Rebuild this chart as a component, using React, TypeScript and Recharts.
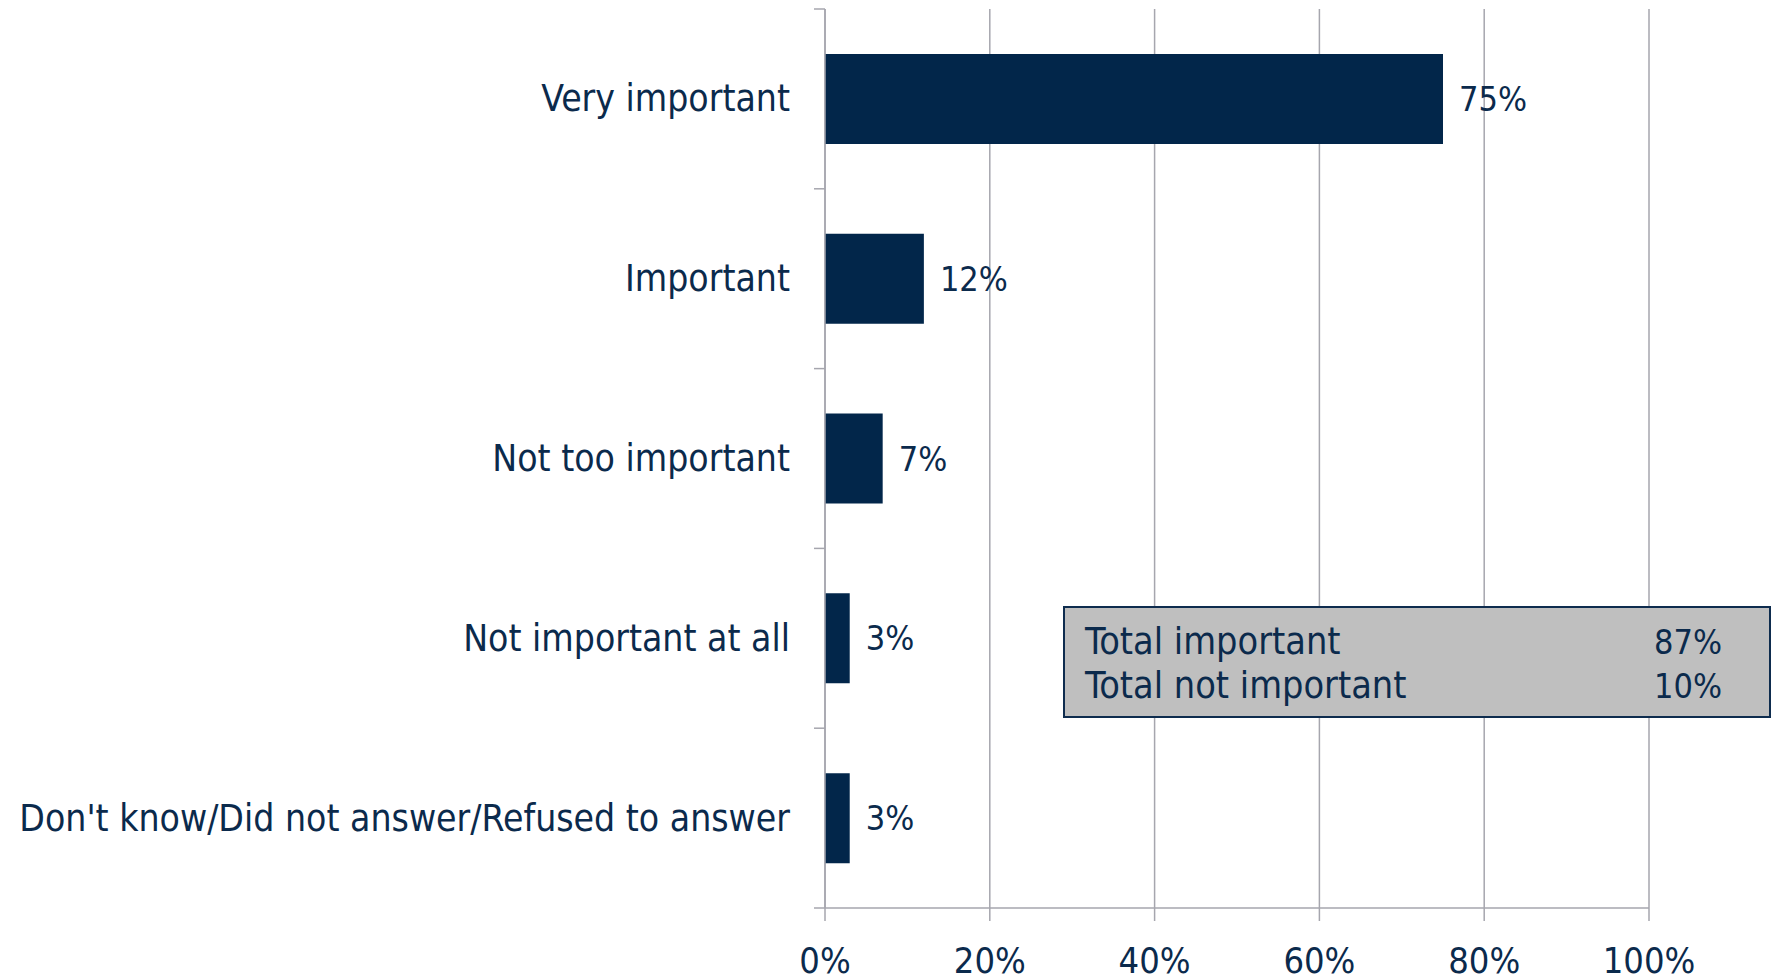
import { Bar, BarChart, CartesianGrid, LabelList, XAxis, YAxis } from "recharts";

const categories = ["Very important", "Important", "Not too important", "Not important at all", "Don't know/Did not answer/Refused to answer"];
const shares = [75, 12, 7, 3, 3];
const xTicks = [0, 20, 40, 60, 80, 100];
const totalLabels = ["Total important", "Total not important"];
const totalValues = [87, 10];

const W = 1777, H = 980;
const M = { top: 9, right: 128, bottom: 0, left: 0 };
const X_AXIS_H = 72;
const NAVY = "#02264A";
const TEXT = "#0B2A4C";
const GRID = "#A6A6AE";
const FONT = "'DejaVu Sans Condensed', 'DejaVu Sans', sans-serif";
const band = (H - M.top - M.bottom - X_AXIS_H) / categories.length;

const data = categories.map((name, i) => ({ name, value: shares[i] }));

function CatTick({ x, y, payload, index }: any) {
  const last = index === categories.length - 1;
  return <g>
    <text x={x - 35} y={y} textAnchor="end" dominantBaseline="central" fontSize={37} fill={TEXT} fontFamily={FONT}>{payload.value}</text>
    <line x1={x - 11} x2={x} y1={y - band / 2} y2={y - band / 2} stroke={GRID} strokeWidth={1.5} />
    {last && <line x1={x - 11} x2={x} y1={y + band / 2} y2={y + band / 2} stroke={GRID} strokeWidth={1.5} />}
  </g>;
}

function PctTick({ x, y, payload }: any) {
  return <text x={x} y={y + 39} textAnchor="middle" dominantBaseline="central" fontSize={36} fill={TEXT} fontFamily={FONT}>{payload.value}%</text>;
}

export default function App() {
  return <div style={{ position: "absolute", left: 0, top: 0, width: W, height: H, background: "#fff" }}>
    <BarChart layout="vertical" width={W} height={H} data={data} margin={M} barCategoryGap="25%">
      <CartesianGrid horizontal={false} stroke={GRID} strokeWidth={1.5} />
      <XAxis type="number" domain={[0, 100]} ticks={xTicks} tickSize={13} tickMargin={0} stroke={GRID} strokeWidth={1.5} tick={<PctTick />} height={X_AXIS_H} interval={0} />
      <YAxis type="category" dataKey="name" width={825} tickSize={0} tickMargin={0} tickLine={false} stroke={GRID} strokeWidth={1.5} tick={<CatTick />} interval={0} />
      <Bar dataKey="value" fill={NAVY} isAnimationActive={false}>
        <LabelList dataKey="value" position="right" offset={16} formatter={(v: any) => `${v}%`} fill={TEXT} fontSize={34} fontFamily={FONT} />
      </Bar>
    </BarChart>
    <div style={{ position: "absolute", left: 1063, top: 606, width: 708, height: 112, background: "#BFBFBF", border: "2px solid #0E2C4E", fontFamily: FONT, fontSize: 37.5, color: TEXT, padding: "12px 47px 0 20px", boxSizing: "border-box", lineHeight: "43px" }}>
      {totalLabels.map((t, i) => <div key={t} style={{ display: "flex", justifyContent: "space-between", alignItems: "baseline" }}><span>{t}</span><span style={{ fontSize: 34 }}>{totalValues[i]}%</span></div>)}
    </div>
  </div>;
}
